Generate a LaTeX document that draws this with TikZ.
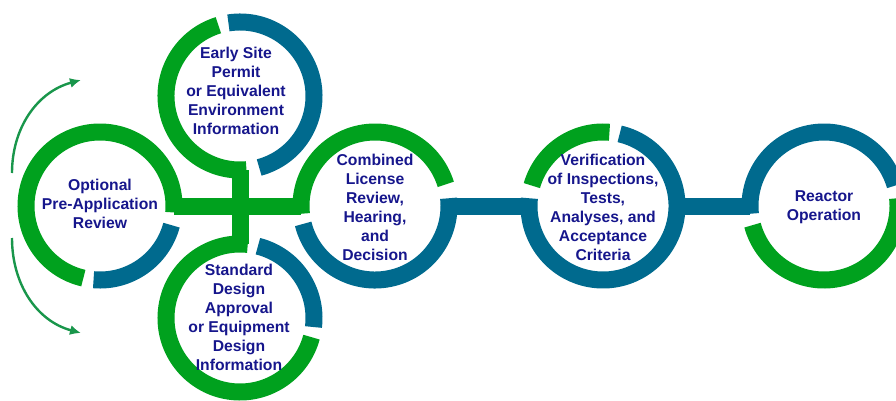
\documentclass[tikz,border=0pt]{standalone}
\usepackage{fontspec}
\setmainfont{Liberation Sans}
\usetikzlibrary{arrows.meta}
\definecolor{ringgreen}{RGB}{0,161,30}
\definecolor{ringblue}{RGB}{0,106,142}
\definecolor{txtblue}{RGB}{22,22,140}
\definecolor{arrgreen}{RGB}{25,150,75}
\begin{document}
\begin{tikzpicture}[x=1pt,y=1pt,
  ring/.style={line width=17pt},
  gring/.style={ring, draw=ringgreen},
  bring/.style={ring, draw=ringblue},
  hub/.style={circle, minimum size=148pt, inner sep=0pt, draw=none},
  lbl/.style={text=txtblue, font=\fontsize{15.7}{19}\selectfont\bfseries, align=center, inner sep=0pt},
  flow/.style={draw=arrgreen, line width=2.4pt, -{Latex[length=11pt,width=10pt]}}]
\path[use as bounding box] (0,0) rectangle (896,400);
\clip (0,0) rectangle (896,400);
\def\R{74}
\node[hub] (c1) at (100,194) {};
\node[hub] (c2) at (240,304) {};
\node[hub] (c3) at (240,82) {};
\node[hub] (c4) at (375,194) {};
\node[hub] (c5) at (603,194) {};
\node[hub] (c6) at (824,194) {};
% connectors
\draw[gring] (c1.east) -- (c4.west);
\draw[gring] (c2.south) -- (c3.north);
\draw[bring] (c4.east) -- (c5.west);
\draw[bring] (c5.east) -- (c6.west);
% circle 1
\draw[gring] ([shift={(-5:\R)}]c1.center) arc[start angle=-5, end angle=257, radius=\R];
\draw[bring] ([shift={(265:\R)}]c1.center) arc[start angle=265, end angle=345, radius=\R];
% circle 2
\draw[gring] ([shift={(107:\R)}]c2.center) arc[start angle=107, end angle=275, radius=\R];
\draw[bring] ([shift={(99:\R)}]c2.center) arc[start angle=99, end angle=-75, radius=\R];
% circle 3
\draw[gring] ([shift={(84:\R)}]c3.center) arc[start angle=84, end angle=345, radius=\R];
\draw[bring] ([shift={(76:\R)}]c3.center) arc[start angle=76, end angle=-7, radius=\R];
% circle 4
\draw[gring] ([shift={(186:\R)}]c4.center) arc[start angle=186, end angle=17, radius=\R];
\draw[bring] ([shift={(194:\R)}]c4.center) arc[start angle=194, end angle=366, radius=\R];
% circle 5
\draw[gring] ([shift={(164:\R)}]c5.center) arc[start angle=164, end angle=85, radius=\R];
\draw[bring] ([shift={(77:\R)}]c5.center) arc[start angle=77, end angle=-186, radius=\R];
% circle 6
\draw[bring] ([shift={(186:\R)}]c6.center) arc[start angle=186, end angle=16, radius=\R];
\draw[gring] ([shift={(6:\R)}]c6.center) arc[start angle=6, end angle=-165, radius=\R];
% labels
\node[lbl] (t1) at (100,196) {Optional\\Pre-Application\\Review};
\node[lbl] (t2) at (236,309) {Early Site\\Permit\\or Equivalent\\Environment\\Information};
\node[lbl] (t3) at (239,82.5) {Standard\\Design\\Approval\\or Equipment\\Design\\Information};
\node[lbl] (t4) at (375,193) {Combined\\License\\Review,\\Hearing,\\and\\Decision};
\node[lbl] (t5) at (603,192.5) {Verification\\of Inspections,\\Tests,\\Analyses, and\\Acceptance\\Criteria};
\node[lbl] (t6) at (824,192.5) {Reactor\\Operation};
% side arrows
\coordinate (a1s) at (12,227);
\coordinate (a1e) at (81,320);
\coordinate (a2s) at (12,162);
\coordinate (a2e) at (81,67);
\draw[flow] (a1s) to[out=90, in=195] (a1e);
\draw[flow] (a2s) to[out=-90, in=165] (a2e);
\end{tikzpicture}
\end{document}
